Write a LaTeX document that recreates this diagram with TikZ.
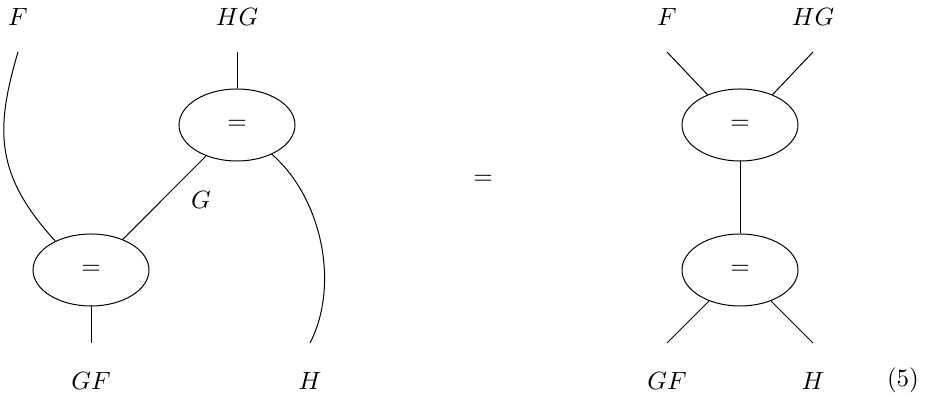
\documentclass[tikz,border=0pt]{standalone}
\usepackage{amsmath}
\usepackage{tikz}
\usetikzlibrary{shapes.geometric}

\begin{document}
\begin{tikzpicture}[x=0.4pt, y=-0.4pt,
        eqbox/.style={ellipse, draw, line width=0.4pt, minimum width=46.4pt,
        minimum height=28.8pt, inner sep=0pt},
        wire/.style={line width=0.4pt},
        objlabel/.style={inner sep=0pt},
      ]
      \useasboundingbox (0,0) rectangle (927,397);

      % =================== LEFT SIDE ===================
      \node[objlabel] (lF) at (18,17) {$F$};
      \node[objlabel] (lHG) at (237,17) {$HG$};
      \node[objlabel] (lGF) at (91,381) {$GF$};
      \node[objlabel] (lH) at (310,381) {$H$};
      \node[objlabel] (lG) at (201,200) {$G$};

      \node[eqbox] (lup) at (237,125) {$=$};
      \node[eqbox] (llo) at (91,270) {$=$};

      \coordinate (lFend) at (18,52);
      \coordinate (lHGend) at (237,52);
      \coordinate (lGFend) at (91,343);
      \coordinate (lHend) at (310,343);

      \draw[wire] (lHGend) -- (lup.north);
      \draw[wire] (llo.south) -- (lGFend);
      \draw[wire] (lup.225) -- (llo.44);
      \draw[wire] (lFend) .. controls (-5,130) and (-5,175) .. (llo.141);
      \draw[wire] (lup.-40) .. controls (322,198) and (340,285) .. (lHend);

      % =================== MIDDLE ===================
      \node[objlabel] (mideq) at (483,180) {$=$};

      % =================== RIGHT SIDE ===================
      \node[objlabel] (rF) at (667,17) {$F$};
      \node[objlabel] (rHG) at (813,17) {$HG$};
      \node[objlabel] (rGF) at (667,381) {$GF$};
      \node[objlabel] (rH) at (813,381) {$H$};
      \node[objlabel] (eqnum) at (903,380) {$(5)$};

      \node[eqbox] (rup) at (740,125) {$=$};
      \node[eqbox] (rlo) at (740,270) {$=$};

      \coordinate (rFend) at (667,52);
      \coordinate (rHGend) at (813,52);
      \coordinate (rGFend) at (667,343);
      \coordinate (rHend) at (813,343);

      \draw[wire] (rFend) -- (rup.137);
      \draw[wire] (rHGend) -- (rup.43);
      \draw[wire] (rup.south) -- (rlo.north);
      \draw[wire] (rlo.225) -- (rGFend);
      \draw[wire] (rlo.-45) -- (rHend);

    \end{tikzpicture}
\end{document}
